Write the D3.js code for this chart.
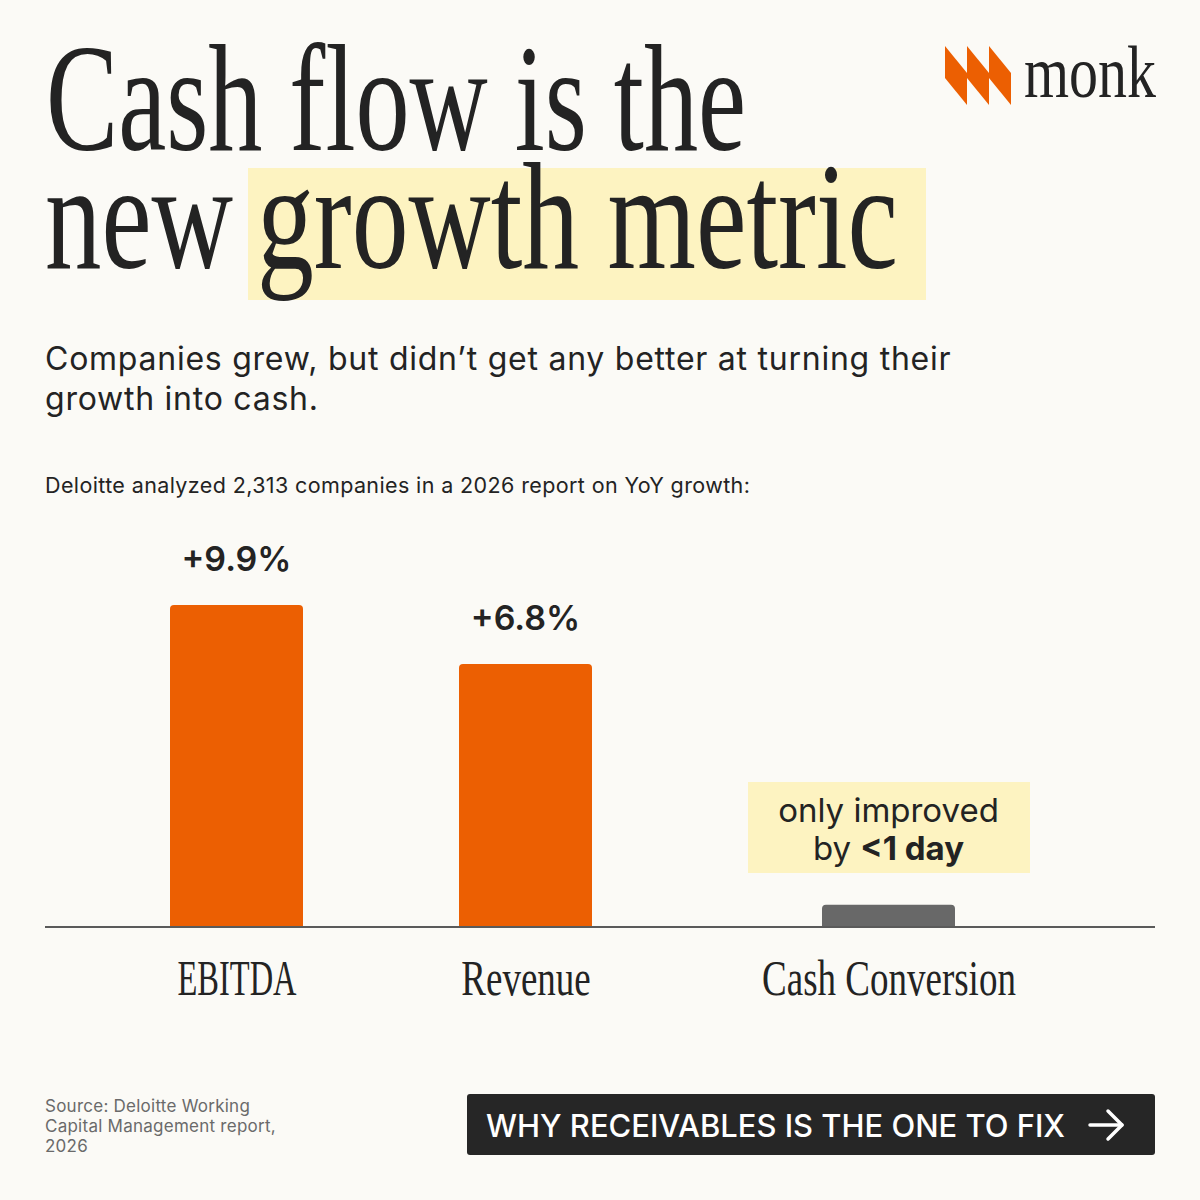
<!DOCTYPE html>
<html>
<head>
<meta charset="utf-8">
<script src="https://cdn.jsdelivr.net/npm/d3@7/dist/d3.min.js"></script>
<style>
  html, body { margin: 0; padding: 0; background: #fbfaf6; }
  svg { display: block; }
</style>
</head>
<body>
<svg id="chart" width="1200" height="1200"></svg>
<script>
// ---------- data ----------
const categories = ["EBITDA", "Revenue", "Cash Conversion"];
const values = [9.9, 6.8, 0.07];           // bar heights as drawn (cash conversion: stub, <1 day)
const valueLabels = ["+9.9%", "+6.8%", ""];
const titleLine1 = "Cash flow is the";
const titleLine2a = "new";
const titleLine2b = "growth metric";
const subtitleLines = ["Companies grew, but didn\u2019t get any better at turning their", "growth into cash."];
const note = "Deloitte analyzed 2,313 companies in a 2026 report on YoY growth:";
const sourceLines = ["Source: Deloitte Working", "Capital Management report,", "2026"];
const ctaText = "WHY RECEIVABLES IS THE ONE TO FIX";

// ---------- style ----------
const ORANGE = "#ec5f02";
const GREY = "#686868";
const INK = "#232323";
const HILITE = "#fdf3c1";
const SERIF = "'Liberation Serif', 'Times New Roman', serif";
const SANS = "Inter, 'Noto Sans', sans-serif";

const svg = d3.select("#chart");
svg.append("rect").attr("width", 1200).attr("height", 1200).attr("fill", "#fbfaf6");

// ---------- title ----------
svg.append("rect").attr("x", 248).attr("y", 168).attr("width", 678).attr("height", 132).attr("fill", HILITE);
const titleG = svg.append("g").attr("font-family", SERIF).attr("fill", INK).attr("font-size", 152);
titleG.append("text").attr("x", 46).attr("y", 150).attr("textLength", 700).attr("lengthAdjust", "spacingAndGlyphs").text(titleLine1);
titleG.append("text").attr("x", 45).attr("y", 268).attr("textLength", 188).attr("lengthAdjust", "spacingAndGlyphs").text(titleLine2a);
titleG.append("text").attr("x", 257).attr("y", 268).attr("textLength", 641).attr("lengthAdjust", "spacingAndGlyphs").text(titleLine2b);

// ---------- logo ----------
const logo = svg.append("g");
[945, 967, 989].forEach(x0 => {
  logo.append("path")
    .attr("d", `M${x0},46 L${x0 + 22},73 L${x0 + 22},105 L${x0},78 Z`)
    .attr("fill", ORANGE);
});
logo.append("text").attr("x", 1024).attr("y", 97).attr("font-family", SERIF).attr("font-size", 75)
  .attr("fill", INK).attr("textLength", 132).attr("lengthAdjust", "spacingAndGlyphs").text("monk");

// ---------- subtitle ----------
svg.append("g").selectAll("text").data(subtitleLines).join("text")
  .attr("x", 45).attr("y", (d, i) => 370 + i * 40)
  .attr("font-family", SANS).attr("font-size", 32).attr("letter-spacing", 0.75)
  .attr("fill", INK).text(d => d);

svg.append("text").attr("x", 45).attr("y", 493).attr("font-family", SANS).attr("font-size", 21.5)
  .attr("letter-spacing", 0.38).attr("fill", INK).text(note);

// ---------- chart ----------
const baseY = 927;
const x = d3.scaleOrdinal().domain(categories).range([236.5, 525.5, 888.5]);
const barW = 133;
const y = d3.scalePow().exponent(0.54).domain([0, 9.9]).range([baseY, 605]);
const barColors = [ORANGE, ORANGE, GREY];

function topRounded(cx, top, w, bottom, r) {
  const x0 = cx - w / 2, x1 = cx + w / 2;
  return `M${x0},${bottom} L${x0},${top + r} Q${x0},${top} ${x0 + r},${top} L${x1 - r},${top} Q${x1},${top} ${x1},${top + r} L${x1},${bottom} Z`;
}

svg.append("g").selectAll("path").data(categories).join("path")
  .attr("d", (d, i) => topRounded(x(d), y(values[i]), barW, baseY, 4))
  .attr("fill", (d, i) => barColors[i]);

svg.append("g").selectAll("text").data(categories).join("text")
  .attr("x", d => x(d)).attr("y", (d, i) => y(values[i]) - 34)
  .attr("text-anchor", "middle").attr("font-family", SANS).attr("font-weight", 600)
  .attr("font-size", 34).attr("fill", INK).text((d, i) => valueLabels[i]);

// baseline
svg.append("line").attr("x1", 45).attr("x2", 1155).attr("y1", baseY).attr("y2", baseY)
  .attr("stroke", "#5a5a5a").attr("stroke-width", 2);

// category axis
const axis = d3.axisBottom(x).tickSize(0).tickPadding(0);
const axG = svg.append("g").attr("transform", `translate(0,${baseY})`).call(axis);
axG.select(".domain").remove();
axG.selectAll(".tick text")
  .attr("font-family", SERIF).attr("font-size", 50).attr("fill", INK)
  .attr("dy", null).attr("y", 0)
  .attr("transform", d => `translate(0,68) scale(${d === "EBITDA" ? 0.65 : 0.74},1)`);

// annotation
const ann = svg.append("g");
ann.append("rect").attr("x", 748).attr("y", 782).attr("width", 282).attr("height", 91).attr("fill", HILITE);
ann.append("text").attr("x", x("Cash Conversion")).attr("y", 822).attr("text-anchor", "middle")
  .attr("font-family", SANS).attr("font-size", 33).attr("fill", INK).text("only improved");
const t2 = ann.append("text").attr("x", x("Cash Conversion")).attr("y", 860).attr("text-anchor", "middle")
  .attr("font-family", SANS).attr("font-size", 33).attr("fill", INK);
t2.append("tspan").text("by ");
t2.append("tspan").attr("font-weight", 700).text("<1 day");

// ---------- footer ----------
svg.append("g").selectAll("text").data(sourceLines).join("text")
  .attr("x", 45).attr("y", (d, i) => 1112 + i * 20)
  .attr("font-family", SANS).attr("font-size", 17).attr("letter-spacing", 0.25)
  .attr("fill", "#6a6a6a").text(d => d);

svg.append("rect").attr("x", 467).attr("y", 1094).attr("width", 688).attr("height", 61).attr("rx", 3).attr("fill", "#262626");
svg.append("text").attr("x", 486).attr("y", 1137).attr("font-family", SANS).attr("font-weight", 500)
  .attr("font-size", 31).attr("fill", "#ffffff").attr("textLength", 579).attr("lengthAdjust", "spacingAndGlyphs").text(ctaText);
const arrow = svg.append("g").attr("stroke", "#fff").attr("stroke-width", 3.5).attr("fill", "none")
  .attr("stroke-linecap", "round").attr("stroke-linejoin", "round");
arrow.append("line").attr("x1", 1090).attr("x2", 1122).attr("y1", 1125).attr("y2", 1125);
arrow.append("polyline").attr("points", "1108,1111 1122,1125 1108,1139");
</script>
</body>
</html>
